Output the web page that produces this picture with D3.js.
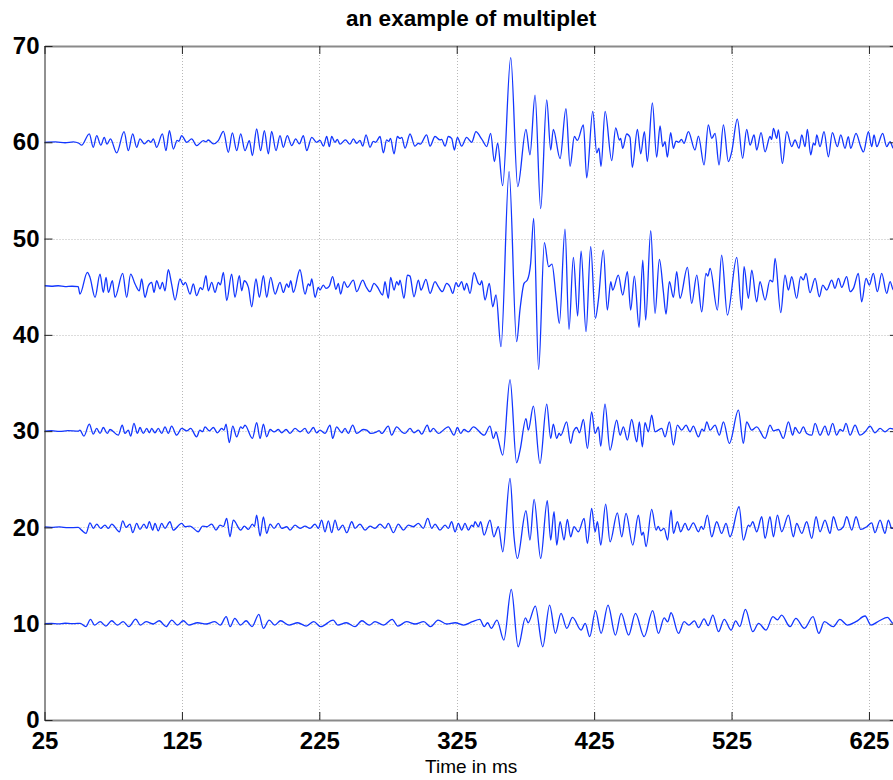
<!DOCTYPE html>
<html>
<head>
<meta charset="utf-8">
<script src="https://cdn.jsdelivr.net/npm/d3@7"></script>
<style>
	body { margin: 0; background: #fff; }
	svg { display: block; font-family: "Liberation Sans", Arial, Helvetica, sans-serif; }
</style>
</head>
<body>
<div id="chart"></div>
<script>
// ticks and trace offsets
var xTicks = [25, 125, 225, 325, 425, 525, 625];
var yTicks = [0, 10, 20, 30, 40, 50, 60, 70];
var offsets = [60, 45, 30, 20, 10];

// each trace: [time in ms, deviation from its offset], peaks and troughs
var trace60 = [
	[25,0],[33,0.05],[40,-0.05],[46,0.05],[50,-0.1],[52,-0.3],[57.6,0.87],[60.5,-0.52],[63,0.69],[66,-0.3],[68.5,0.5],[70.5,-0.2],[73,0.35],[77.5,-1.1],[82.9,1.1],[86,-0.87],[89.2,0.87],[92.1,-0.52],[94.5,0.35],[97.7,-0.17],[100.6,0.2],[102.5,0],[104.2,0.35],[106.6,-0.52],[110.8,0.87],[113.4,-0.87],[115.9,1.2],[118.8,-0.7],[121.5,0.2],[122.8,0.1],[124.8,0.7],[128.5,0],[132.1,0.35],[135.7,-0.35],[140.6,0.17],[142.5,0.05],[144.2,0.24],[147.9,-0.17],[151.5,0.17],[155.2,1.14],[158.8,-1.04],[161.7,0.97],[164.9,-0.87],[167.8,0.87],[170.9,-0.87],[174.1,0.17],[176.3,-1.38],[179.4,1.38],[182.3,-0.87],[185,1.2],[187.9,-1.2],[190.3,1.14],[193.5,-0.87],[196.4,0.69],[198.8,-0.52],[201.7,0.69],[204.9,-0.35],[207.8,0.35],[210.5,-0.17],[213.4,0.69],[215.8,-0.87],[219.5,0.52],[223.1,0],
	[225.5,0.2],[228,-0.4],[230.4,0.6],[232.3,-0.45],[234,0.6],[236.4,0],[238.1,0.3],[240,-0.2],[244,0.25],[247.3,-0.2],[249.8,0.35],[252.2,-0.1],[254.6,0.2],[256.6,-0.4],[259,0.76],[261.9,-0.52],[264.3,0.1],[266,0],[269.2,0.6],[271.6,-1.1],[274,0.25],[275.5,0.1],[276.8,0.4],[279.4,-1.2],[281.8,0.6],[283.7,0.4],[285,0.5],[287.4,-0.6],[291,0.86],[294.6,-0.4],[297.1,-0.1],[298.5,-0.2],[303.1,0.76],[305.6,-0.4],[309.2,0.6],[312.8,0.25],[314,0.3],[316.5,-0.4],[318.9,0.6],[321.3,0.4],[323.3,-0.8],[325.5,0.52],[328.6,-0.4],[332.2,0.5],[335.9,0],[339,1.1],[342,0.6],[344.4,0.05],[346.8,-0.45],[349.7,0.93],[352.4,-2.0],[354.8,-0.1],[358.4,-4.5],[364.3,8.8],[369.4,-4.6],[375.4,1.35],[378.3,-1.3],[382,4.9],[386.1,-6.9],[390.5,4.4],[393.4,-0.8],[395.3,1.35],[400.2,-1.7],[404.5,3.5],[407.5,-2.5],[410.6,0.6],[412.8,0.2],[417.2,1.8],[419.6,-3.7],[424,3.2],[426.9,-1.1],[428.5,-0.6],[430,-2.5],[433,3.2],[437.8,-1.9],[440.7,1.5],
	[443.4,0.24],[444.3,0.41],[445.8,-0.63],[448.7,0.86],[451.1,0.52],[452.8,-2.6],[456.5,1.35],[458.9,-1.2],[461.6,1.1],[463.7,-2.0],[467.4,4.1],[470.5,-1.55],[473,1.7],[474.9,-0.45],[476.6,0.07],[478.3,-1.55],[480.7,1.0],[482.7,-0.63],[484.6,0.13],[486.6,0],[488.5,0.3],[490.4,-0.1],[493.6,1.1],[498.4,-0.8],[500.9,0.65],[505,-2.35],[508.1,1.8],[510.6,0.4],[513,0.93],[515.9,-2.35],[519.1,1.8],[522.7,-2.0],[525.1,-1.0],[529.2,2.4],[533.1,-1.66],[536,1.35],[538.5,-0.28],[541.4,0.76],[543.3,-0.8],[546.5,1.0],[549.4,-1.0],[553,0.6],[554.2,0.3],[555.5,1.45],[557.9,0.41],[559.1,1.28],[562,-2.2],[565.2,1.1],[568.8,-0.45],[571.2,0.24],[574.1,-0.63],[576.1,0.76],[578.5,-0.45],[580.2,1.35],[582.6,-1.3],[584.6,-0.1],[585.8,-0.3],[587,0.76],[589.4,-0.45],[592.3,1.1],[595.5,-1.5],[598.4,1.0],[602,-0.45],[604.5,0.76],[607.6,-0.63],[610,0.59],[611.7,-0.63],[615.6,0.93],[619,-0.45],[621,-1.0],[624.6,1.1],[627,-0.45],[628.7,0.76],[630.7,-0.45],[635,0.93],[637.9,-0.45],[640.4,0.07],[642.8,-0.63],[646,0]
];

var trace45 = [
	[25,0.1],[30,0.05],[35,0.1],[40,0],[45,0.05],[49.5,0],[50.8,-0.76],[56.2,1.49],[58.1,0.97],[61.8,-1.1],[65.4,1.31],[67.8,-0.59],[69.8,0.97],[71.5,-0.59],[74.4,0.62],[76.3,-1.1],[81.9,1.38],[84.8,-1.1],[87.7,1.31],[90.9,0.28],[94,-0.42],[95.7,0.8],[98.1,-1.1],[100.6,0.1],[103,0.45],[104.7,-0.59],[106.6,0.62],[109.1,-0.24],[110.8,0.45],[112.7,-0.42],[115.1,1.76],[117.5,0.28],[120,-1.38],[123.6,0.8],[126,0.2],[127.5,0.45],[130.9,-0.76],[133.3,0.28],[135.7,-0.93],[138.5,-0.1],[140,-0.3],[142.5,1.14],[144.2,-0.42],[146.7,0.45],[149.1,-0.59],[151.5,0.45],[153,0.2],[155.2,1.49],[157.6,-1.45],[161.2,1.31],[163.6,-1.1],[166.8,1.14],[168.5,-0.42],[170.4,0.62],[173.4,-0.07],[175.8,-2.08],[178.9,0.8],[181.4,-1.1],[184.3,1.14],[186.7,-1.1],[189.6,0.97],[192.8,-0.76],[196.4,0.45],[198.8,-0.59],[201.3,0.28],[202.7,-0.07],[204.2,0.62],[206.1,-0.59],[210.9,1.76],[214.6,-0.76],[217,0.28],[218.2,0.1],[219.5,0.8],[221.9,-1.1],[224.3,-0.07],
	[225.5,-0.35],[227.9,0.17],[229.9,-0.17],[232.3,0.07],[234.7,1.04],[237.1,-0.28],[238.8,0.35],[240.5,-0.76],[243,0.52],[245.4,-0.07],[249.8,0.69],[252.2,-0.52],[256.6,0.69],[259,0],[261.9,-0.52],[264.8,0.35],[267.2,0],[271.1,-0.86],[272.8,0.52],[275.2,-1.21],[276.9,0.97],[279.4,-0.35],[281.3,0.52],[282.8,0.17],[283.7,0.69],[286.6,-1.21],[289.1,1.21],[291,1.1],[293.9,-1.04],[297.1,0.69],[299,-0.35],[302.6,0.76],[305.6,-0.69],[309.2,0.52],[311.6,0],[314.5,-0.52],[317.7,0.35],[320.1,0],[322.1,-0.69],[324.5,0.42],[326.2,0],[328.6,0.52],[330.5,-0.35],[332.2,0.35],[334.7,-0.69],[337.6,1.45],[340.7,0.35],[342,0.2],[343.2,0.62],[345.6,-1.38],[348.7,0.35],[351.2,-2.08],[353.6,-0.86],[357.2,-6.23],[363.1,11.94],[368.6,-5.71],[371.1,-2.3],[374,0.35],[376.4,0.69],[378.8,2.42],[381,7.09],[384.6,-8.58],[388.8,4.57],[391.9,2.08],[394.3,2.35],[397.3,-1.04],[399.7,-3.81],[403.8,5.99],[406.7,-4.43],[409.9,3.04],[413,-3.04],[415.5,3.7],[419.1,-4.67],[422.5,4.15],[425.9,-3.29],[428.1,-1.38],
	[431.7,3.8],[434.6,-2.42],[437.1,0.52],[438.5,-0.35],[442.6,1.21],[445.8,-0.86],[449.2,1.56],[451.6,-2.42],[454.3,1.11],[457.7,-4.22],[460.4,2.77],[462.5,-3.46],[466.2,5.81],[469.3,-2.77],[472.5,2.83],[475.4,-0.52],[477.3,-2.84],[479.8,0.52],[482.7,-1.11],[485.1,1.56],[487.5,-1.21],[492.9,2.0],[496,-1.73],[499.7,1.21],[503.3,-2.6],[506.4,1.38],[507.7,1.1],[509.4,1.9],[514.7,-2.42],[517.8,3.29],[522,-2.94],[528.8,3.04],[532.4,-2.42],[534.1,2.08],[537.3,-1.21],[539.7,1.73],[543.3,-1.56],[545.7,0.52],[549.4,-1.38],[553,0.69],[555,0.5],[556.7,2.94],[560.8,-2.7],[563.9,1.21],[566.4,-0.35],[568.8,1.04],[572.4,-1.21],[575.3,1.04],[577.3,0.7],[579.2,1.38],[582.1,-0.62],[585.8,0.86],[588.9,-1.04],[591.4,0.17],[594.3,-0.35],[597.9,0.69],[600.3,-0.17],[602.8,0.86],[605.2,-0.07],[608.8,1.04],[611.3,-0.52],[613.7,-0.17],[617.3,1.38],[619.7,-1.56],[622.9,0.86],[625.3,0.17],[628.2,1.38],[631.1,-0.52],[634.3,1.38],[637.9,-0.69],[640.4,0.52],[642.8,-0.35],[646,0]
];

var trace30 = [
	[25,0],[30,0.05],[36,-0.03],[42,0.05],[49.5,0],[50.8,0.1],[53.7,-0.52],[57.6,0.73],[60.5,-0.31],[63,0.28],[65.4,-0.24],[67.8,0.38],[70.7,-0.24],[72.7,0.17],[78.7,-0.42],[81.6,0.62],[83.5,-0.24],[86,0.1],[87.7,-0.52],[90.1,0.8],[92.6,-0.24],[94.5,0.38],[96.9,-0.24],[99.4,0.28],[101.3,-0.17],[103,0.28],[105.4,-0.17],[107.8,0.28],[110.3,-0.24],[112.7,0.45],[115.1,-0.24],[117.5,0.52],[121.2,-0.42],[124.8,0.28],[128.5,0.03],[131.4,0.28],[135.7,-0.59],[138.1,0.1],[140.1,-0.05],[141.8,0.45],[145,0.03],[147.9,0.38],[150.8,-0.17],[154,0.28],[155.6,0.1],[157.1,0.73],[159.5,-1.18],[162,0.52],[164.9,-0.59],[167.8,0.45],[169.2,0.28],[170.9,0.62],[176.3,-0.76],[179.4,0.87],[181.9,-0.76],[184.3,0.73],[186.7,-0.59],[189.2,0.17],[192.1,-0.07],[195.2,0.17],[197.6,-0.17],[200.8,0.17],[203.7,-0.24],[207.3,0.28],[211,-0.07],[214.6,0.28],[217,-0.24],[220.7,0.38],[223.1,-0.17],[225.5,0.1],[229.1,-0.24],[232.8,0.62],[234.7,-0.76],[237.6,0.45],[241.3,-0.17],[243.7,0.28],[246.1,-0.24],[249.3,0.62],[252.2,-0.24],[257,0.17],[259.5,0.1],[262.4,-0.24],[266.8,-0.07],[268.5,0.05],[270.4,-0.24],[275.2,0.52],[277.6,-0.42],[281.3,0.45],[284.9,-0.07],[287.4,-0.24],[291,0.28],[293.9,-0.17],[297.1,0.1],[299.5,-0.31],[303.6,0.62],[305.6,-0.07],[308,0.28],[311.6,-0.24],[318.9,0.45],
	[323,-0.42],[325.5,0.38],[327.9,-0.24],[330.3,0.17],[333.5,-0.07],[337.1,0.45],[345,-0.42],[349.2,0.52],[351.7,-0.76],[353.6,-0.07],[355.3,-0.93],[358.5,-2.49],[363.8,5.36],[368.6,-3.29],[371.1,-1.97],[375.4,1.31],[377.1,0.1],[380.8,2.6],[385.6,-3.36],[390.5,2.8],[393.4,-0.76],[395.3,0.73],[397.8,-0.76],[399.5,-0.2],[400.7,-0.45],[405,0.97],[407.9,-1.28],[409.9,-0.07],[412.3,0.38],[414.3,-0.17],[417.2,1.21],[420.1,-1.8],[423.2,2.0],[425.7,-0.24],[428.1,0.45],[429.8,-1.56],[432.9,2.8],[436.6,-1.97],[441.4,1.14],[443.9,-0.42],[446.3,0.45],[449.2,-0.93],[452.3,1.21],[456,-1.11],[457.9,0.97],[460.1,-1.63],[462,0.87],[464.5,-0.07],[466.9,1.66],[469.3,-0.07],[474.2,0.28],[476.6,-0.59],[479.8,0.97],[482.7,-1.45],[485.6,0.62],[488.7,0.1],[491.9,0.62],[494.8,-0.07],[497.2,0.52],[500.9,-0.59],[503.5,0.2],[505,0],[507,0.97],[509.4,0.1],[513,0.62],[516.1,-0.42],[519.1,0.97],[523.4,-1.28],[530,2.18],[533.6,-1.28],[536,0.97],[539.7,0.1],[543.3,0.45],[549.4,-0.76],[553,0.62],[555.5,0.03],[559.1,0.17],[562.7,-0.76],[566.4,0.97],[569.5,-0.42],[571.2,0.38],[574.4,-0.24],[577.3,0.45],[579.7,-0.24],[583.4,-0.42],[585.8,0.8],[589.4,-0.42],[593,0.52],[595.5,-0.42],[598.6,0.8],[601.5,-0.42],[604,0.17],[606,0],[608.3,0.8],[611.3,-0.42],[614.9,0.62],[618.5,-0.42],[622.2,-0.07],[625.8,0.52],[629.4,-0.17],[633.1,0.28],[636.7,-0.07],[640.4,0.28],[646,0]
];

var trace20 = [
	[25,0.05],[30,0],[36,0.05],[42,-0.03],[49.5,0],[52,-0.28],[55.2,-0.62],[58.1,0.48],[60.5,-0.1],[63,0.35],[65.9,-0.1],[69,0.24],[71.5,-0.1],[73.9,0.35],[79.5,-0.45],[81.9,0.69],[84.4,0],[87.2,0.35],[89.2,-0.55],[92.1,0.42],[94.5,-0.21],[97.4,0.35],[99.4,-0.1],[101.3,0.59],[103.7,-0.28],[105.4,0.42],[107.8,-0.35],[110.3,0.42],[112.7,-0.1],[116.3,0.59],[118.7,-0.28],[124.8,0.42],[127.3,0.07],[130.9,0.14],[136.9,-0.45],[140.1,0.14],[143,0.07],[146.7,0.35],[149.8,-0.28],[152.7,0.24],[155.2,0.1],[157.6,0.93],[160,-0.97],[162.4,0.76],[167.8,-0.28],[170.4,0.14],[173.4,-0.21],[176.3,0.35],[177.8,0.1],[179.4,1.28],[181.9,-0.9],[184.3,1.1],[186.7,-0.62],[189.2,0.35],[192.1,-0.1],[195.2,0.42],[197.6,-0.1],[201.3,0.07],[203.7,-0.28],[207.3,0.24],[211,-0.1],[214.6,0.14],[218.2,-0.1],[221.9,0.35],[224.3,-0.1],[226.7,0.76],[229.1,-0.45],[231.6,0.69],[234,-0.55],[236.4,0.76],[238.9,-0.28],[242,0.24],[245,-0.55],[248.6,0.59],[251,-0.1],[254.6,0.35],[258.3,-0.28],[261.9,0.14],[265.5,-0.1],[269.2,0.35],[272.8,-0.1],[275.2,0.42],[278.9,-0.55],[282.5,0.35],[286.2,-0.28],[289.8,0.24],[293.4,0.07],[297.1,0.42],[300.7,-0.1],[303.9,0.93],[306.8,-0.1],[309.2,0.35],[312.8,-0.28],[316.5,0.24],[318.9,-0.1],
	[321.3,0.59],[323.8,-0.45],[326.2,0.42],[328.6,-0.28],[331,0.42],[333.5,-0.28],[335.9,0.24],[337.1,0.07],[338.3,0.59],[340.8,0.07],[342.4,0.59],[344.9,-0.8],[349.2,0.76],[352,-0.97],[355.3,0.07],[358.5,-2.53],[363.8,5.09],[366.7,-0.97],[369.1,-3.22],[375.4,1.73],[378.3,-1.31],[381.3,2.91],[386.1,-3.22],[390.9,2.77],[393.4,-1.31],[395.8,1.63],[397.8,-1.83],[400.2,0.59],[403.1,-1.31],[405.5,0.83],[407.9,-0.97],[410.4,0.07],[413.5,-0.45],[417.7,0.93],[420.1,-1.66],[423.2,1.97],[425.7,-0.45],[427.4,0.59],[429.8,-1.83],[433.4,2.42],[436.6,-1.49],[441.9,1.52],[445.1,-0.97],[448.2,1.45],[453.1,-1.83],[457.2,1.28],[459.6,-0.8],[460.8,-0.5],[462.8,-2.0],[466.9,1.87],[470.1,-0.28],[471.7,0.1],[473.4,-0.35],[475.9,-0.1],[478.5,-1.31],[481,1.8],[482.7,-0.62],[485.6,0.59],[488,-0.45],[491.2,0.42],[493.6,-0.28],[497.2,0.48],[500.9,-0.45],[503,0.1],[504.5,-0.2],[507.4,1.28],[510.6,-0.97],[514.2,0.59],[517.8,-0.62],[521,0.42],[523.9,-0.97],[530.5,2.15],[533.6,-1.31],[537.3,0.24],[538.5,0.1],[540.4,0.59],[543.3,-0.45],[547,1.11],[549.4,-1.14],[553,1.11],[555.5,-0.97],[558.4,1.28],[561.5,-0.45],[566.4,1.28],[570,-0.97],[572.4,0.42],[576.1,-0.62],[579.7,0.59],[583.4,-1.14],[586.5,1.11],[589.4,-0.45],[593,0.76],[596.7,-0.62],[599.1,1.11],[602.8,-0.28],[606.4,0.07],[608.8,1.11],[612.5,-0.28],[615.6,1.11],[619,-0.21],[623.4,0.07],[627,0.48],[629.4,-0.55],[633.1,0.76],[636.7,-0.62],[639.1,0.76],[641.6,-0.1],[646,0]
];

var trace10 = [
	[25,0],[30,0.03],[35,-0.02],[40,0.05],[45,0],[49,0.03],[51,0.03],[55.1,-0.31],[58.5,0.45],[61.4,-0.14],[65.5,0.21],[69.7,-0.24],[73.9,0.31],[78,-0.14],[82.2,0.21],[86.4,-0.31],[91.4,0.48],[94.7,-0.14],[98.9,0.21],[104.3,-0.03],[108.5,0.31],[113.5,-0.31],[117.6,0.38],[121.8,-0.14],[126,0.31],[130.1,-0.14],[136.4,0.1],[142.6,-0.03],[148.9,0.21],[153,-0.14],[157.2,0.73],[160.1,-0.31],[163.5,0.55],[167.6,-0.14],[171.8,0.31],[176,-0.31],[181,0.97],[184.3,-0.48],[188.5,0.38],[192.6,-0.14],[196.8,0.31],[203,-0.14],[209.3,0.1],[215.5,-0.24],[221,0.21],[226,-0.31],[235.1,0.38],[238.5,-0.14],[244.7,0.1],[251,-0.31],[256,0.31],[261.4,-0.14],[265.5,0.21],[271.8,-0.14],[278,0.45],[282.2,-0.24],[288.5,0.21],[294.7,-0.03],[301,0.21],[306,-0.31],[311.4,0.38],[317.6,-0.03],[323.9,0.1],[330.1,-0.14],[336.4,0.21],[341.8,0.45],[345,-0.3],[347.5,0.1],[350.1,-0.48],[354.3,0.38],[359.3,-1.7],[364.7,3.56],[369.7,-2.39],[375,0.6],[377,0.1],[382.2,1.83],[387.6,-2.39],[392.6,1.94],[396.8,-1.0],[400.9,1.07],[405.1,-0.48],[409.3,0.66],[415.5,-0.66],[418.5,0.03],[421.8,-1.35],[426,1.35],[430.1,-1.0],[435.1,1.94],[440.5,-1.18],[444.7,1.07],[450.1,-1.18],[455.1,1.07],[461.4,-1.35],[467.6,1.35],[471.8,-1.0],[476,0.6],[478.5,0.2],[481,1.14],[486.4,-1.0],[490.5,0.21],[493.9,-0.14],[498,0.3],[501,-0.4],[505,0.5],[508,-0.2],[511.4,0.9],[515.5,-0.83],[519.7,0.45],[524.7,-0.66],[528,0.3],[531,-0.3],[535.1,1.49],[540.5,-0.83],[544.7,0.03],[550.1,-0.66],[555.1,0.73],[558.4,0.4],[561.4,0.9],[567.6,-0.31],[571.8,0.55],[578,-0.48],[584.3,0.73],[588.5,-1.0],[592.6,0.21],[598.9,-0.31],[603.9,0.45],[609.3,-0.14],[615.5,0.21],[622.2,0.8],[626.4,-0.14],[632.6,0.31],[638.5,0.66],[642.6,0.03],[646,0]
];

var traces = [trace60, trace45, trace30, trace20, trace10];

var width = 893, height = 780;
var plotLeft = 44.5, plotTop = 46, plotRight = 897.8, plotBottom = 720;
var svg;

var x = d3.scaleLinear().domain([25, 646]).range([plotLeft, plotRight]);
var y = d3.scaleLinear().domain([0, 70]).range([plotBottom, plotTop]);

function init() {
	svg = d3.select('#chart')
		.append('svg')
		.attr('width', width)
		.attr('height', height);

	svg.append('clipPath').attr('id', 'plot')
		.append('rect')
		.attr('x', plotLeft).attr('y', plotTop)
		.attr('width', plotRight - plotLeft).attr('height', plotBottom - plotTop);

	drawGrid();
	drawTraces();
	drawAxes();
	drawTexts();
}

function drawGrid() {
	var g = svg.append('g')
		.attr('stroke', '#b8b8b8')
		.attr('stroke-width', 1)
		.style('stroke-dasharray', ('1, 2'));

	xTicks.slice(1).forEach(function (t) {
		g.append('line')
			.attr('x1', Math.round(x(t)) + 0.5).attr('x2', Math.round(x(t)) + 0.5)
			.attr('y1', plotTop).attr('y2', plotBottom);
	});
	yTicks.slice(1, -1).forEach(function (v) {
		g.append('line')
			.attr('x1', plotLeft).attr('x2', plotRight)
			.attr('y1', Math.round(y(v)) + 0.5).attr('y2', Math.round(y(v)) + 0.5);
	});
}

function drawTraces() {
	var line = d3.line()
		.x(function (d) { return x(d[0]); })
		.curve(d3.curveMonotoneX);

	traces.forEach(function (trace, i) {
		line.y(function (d) { return y(offsets[i] + d[1]); });
		svg.append('path')
			.datum(trace)
			.attr('clip-path', 'url(#plot)')
			.attr('fill', 'none')
			.attr('stroke', '#1236ff')
			.attr('stroke-width', 1.3)
			.attr('stroke-linejoin', 'round')
			.attr('d', line);
	});
}

function drawAxes() {
	var bottomAxis = d3.axisBottom(x).tickValues(xTicks).tickSize(-8).tickSizeOuter(0).tickPadding(12);
	var topAxis = d3.axisTop(x).tickValues(xTicks).tickSize(-8).tickSizeOuter(0).tickFormat('');
	var leftAxis = d3.axisLeft(y).tickValues(yTicks).tickSize(-8).tickSizeOuter(0).tickPadding(5);
	var rightAxis = d3.axisRight(y).tickValues(yTicks).tickSize(-8).tickSizeOuter(0).tickFormat('');

	var gb = svg.append('g').attr('transform', 'translate(0,' + plotBottom + ')').call(bottomAxis);
	var gt = svg.append('g').attr('transform', 'translate(0,' + plotTop + ')').call(topAxis);
	var gl = svg.append('g').attr('transform', 'translate(' + plotLeft + ',0)').call(leftAxis);
	var gr = svg.append('g').attr('transform', 'translate(' + plotRight + ',0)').call(rightAxis);

	[gb, gt, gl, gr].forEach(function (g) {
		g.selectAll('.tick line').attr('stroke', '#222');
		g.selectAll('text')
			.attr('fill', '#000')
			.style('font-size', '24px')
			.style('font-weight', 'bold')
			.style('font-family', '"Liberation Sans", Arial, Helvetica, sans-serif');
	});
	gb.select('.domain').attr('stroke', '#8a8a8a').attr('stroke-width', 2);
	gt.select('.domain').attr('stroke', '#8a8a8a').attr('stroke-width', 2);
	gl.select('.domain').attr('stroke', '#222').attr('stroke-width', 1);
	gr.select('.domain').attr('stroke', '#222').attr('stroke-width', 1);
}

function drawTexts() {
	svg.append('text')
		.attr('x', (plotLeft + plotRight) / 2)
		.attr('y', 26)
		.attr('text-anchor', 'middle')
		.style('font-size', '22.5px')
		.style('font-weight', 'bold')
		.text('an example of multiplet');

	svg.append('text')
		.attr('x', (plotLeft + plotRight) / 2)
		.attr('y', 773)
		.attr('text-anchor', 'middle')
		.style('font-size', '19px')
		.text('Time in ms');
}

init();
</script>
</body>
</html>
